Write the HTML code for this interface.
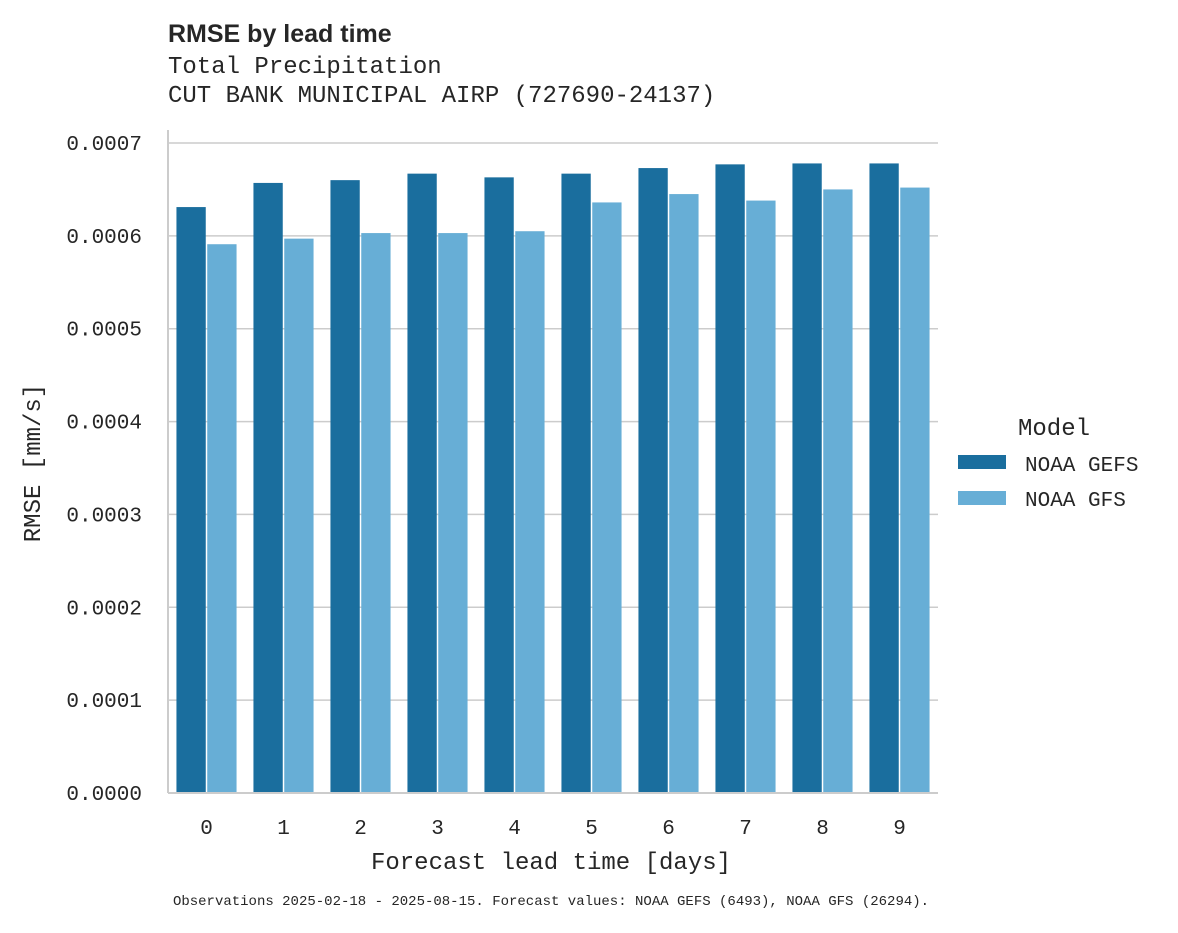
<!DOCTYPE html>
<html><head><meta charset="utf-8"><style>
body{margin:0;background:#fff;}
svg text{font-family:"Liberation Mono",monospace;fill:#262626;}
</style></head><body>
<svg width="1178" height="928" xmlns="http://www.w3.org/2000/svg">
<text x="168" y="42" style="font-family:'Liberation Sans',sans-serif;font-weight:bold;font-size:25px">RMSE by lead time</text>
<text x="168" y="73" font-size="24">Total Precipitation</text>
<text x="168" y="102" font-size="24">CUT BANK MUNICIPAL AIRP (727690-24137)</text>
<g id="grid"></g>
<g id="bars"></g>
<line x1="168" y1="130" x2="168" y2="793" stroke="#ccc" stroke-width="2"/>
<line x1="168" y1="793" x2="938" y2="793" stroke="#ccc" stroke-width="2"/>
<g id="yticks"></g><g id="xticks"></g>
<text x="551" y="869" font-size="24" text-anchor="middle">Forecast lead time [days]</text>
<text transform="translate(40,463) rotate(-90)" font-size="24" text-anchor="middle">RMSE [mm/s]</text>
<g>
<text x="1018" y="435" font-size="24">Model</text>
<rect x="958" y="455" width="48" height="14" fill="#1a6e9e"/>
<text x="1025" y="471" font-size="21">NOAA GEFS</text>
<rect x="958" y="491" width="48" height="14" fill="#67aed6"/>
<text x="1025" y="506" font-size="21">NOAA GFS</text>
</g>
<text x="551" y="905" font-size="14" text-anchor="middle">Observations 2025-02-18 - 2025-08-15. Forecast values: NOAA GEFS (6493), NOAA GFS (26294).</text>
</svg>
<script>
const categories=["0","1","2","3","4","5","6","7","8","9"];
const gefs=[0.000631,0.000657,0.000660,0.000667,0.000663,0.000667,0.000673,0.000677,0.000678,0.000678];
const gfs=[0.000591,0.000597,0.000603,0.000603,0.000605,0.000636,0.000645,0.000638,0.000650,0.000652];
const yTicks=[0,0.0001,0.0002,0.0003,0.0004,0.0005,0.0006,0.0007];
const NS="http://www.w3.org/2000/svg";
const x0=168,x1=938,y0=793,yTop=143,yMax=0.0007;
const band=(x1-x0)/categories.length;
function y(v){return y0-(v/yMax)*(y0-yTop);}
function xc(i){return x0+band*(i+0.5);}
const grid=document.getElementById('grid'),yt=document.getElementById('yticks'),xt=document.getElementById('xticks'),bars=document.getElementById('bars');
yTicks.forEach(t=>{
 const l=document.createElementNS(NS,'line');
 l.setAttribute('x1',x0);l.setAttribute('x2',x1);l.setAttribute('y1',y(t));l.setAttribute('y2',y(t));
 l.setAttribute('stroke','#ccc');l.setAttribute('stroke-width','1.5');
 
 
 grid.appendChild(l);
 const tx=document.createElementNS(NS,'text');
 tx.setAttribute('x',142);tx.setAttribute('y',y(t)+7);tx.setAttribute('font-size','21');tx.setAttribute('text-anchor','end');
 tx.textContent=t.toFixed(4);
 
 
 yt.appendChild(tx);
});
const bw=band*0.4;
categories.forEach((c,i)=>{
 [[gefs[i],'#1a6e9e',-1],[gfs[i],'#67aed6',0]].forEach(([v,col,o],k)=>{
  const r=document.createElementNS(NS,'rect');
  r.setAttribute('x',xc(i)+o*bw+0.75);r.setAttribute('width',bw-1.5);
  r.setAttribute('y',y(v));r.setAttribute('height',y0-y(v));r.setAttribute('fill',col);
  
  
  bars.appendChild(r);
 });
 const tx=document.createElementNS(NS,'text');
 tx.setAttribute('x',xc(i));tx.setAttribute('y',834);tx.setAttribute('font-size','21');tx.setAttribute('text-anchor','middle');
 tx.textContent=c;
 
 
 xt.appendChild(tx);
});
</script>
</body></html>
